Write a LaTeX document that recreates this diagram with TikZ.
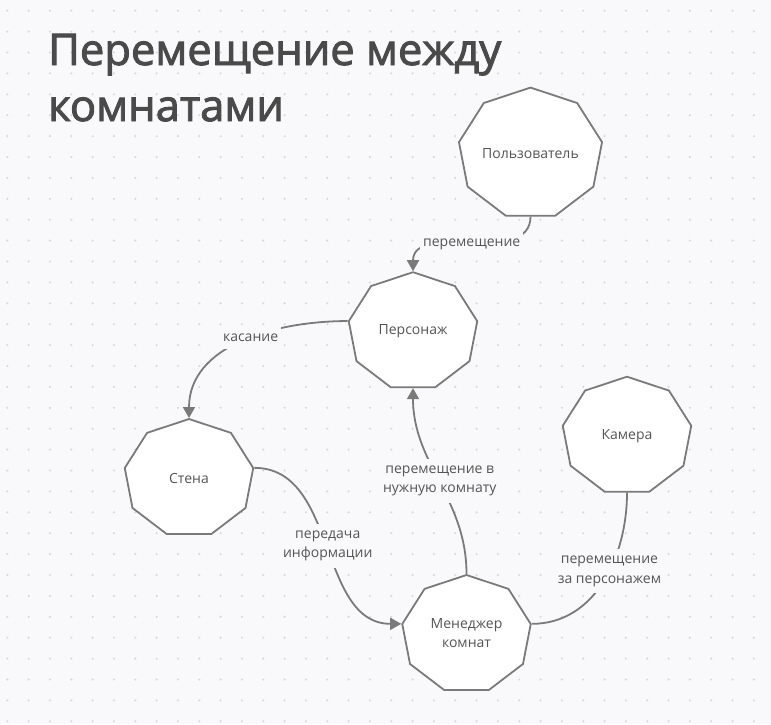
\documentclass[tikz,border=0pt]{standalone}
\usepackage{fontspec}
\setmainfont{Open Sans}
\newfontfamily\titlefont{Open Sans}[FakeBold=2.2]
\usepackage{graphicx}
\usetikzlibrary{arrows.meta}
\usetikzlibrary{shapes.geometric}
\definecolor{paper}{HTML}{F9F9FB}
\definecolor{griddot}{HTML}{DADADE}
\definecolor{wire}{HTML}{7A7A7A}
\definecolor{ink}{HTML}{555555}
\definecolor{headink}{HTML}{4A4A4A}
% the rooms are stretched by 1.1, so squeeze their text back
\newcommand{\roomtext}[1]{\scalebox{0.91}[1]{#1}}
\tikzset{
	room/.style={regular polygon, regular polygon sides=9, minimum size=118.6pt, inner sep=0pt, xscale=1.1, draw=wire, line width=1.8pt, fill=white, text=ink, font=\fontsize{14}{18.5}\selectfont},
	link/.style={draw=wire, line width=1.8pt},
	tip/.style={-{Triangle[length=11pt, width=12pt]}},
	note/.style={fill=paper, text=ink, font=\fontsize{14}{19.5}\selectfont, align=center, inner xsep=3pt, inner ysep=7pt}
}

\begin{document}
\begin{tikzpicture}[x=1pt, y=-1pt]
\useasboundingbox (0,0) rectangle (771,724);
\fill[paper] (0,0) rectangle (771,724);
\foreach \i in {0,...,35}
	\foreach \j in {0,...,34}
		\fill[griddot] (7.33+21.33*\i, 10.7+20.9*\j) circle (1.2pt);

% base west of a two-line node sits on the last line
\node[anchor=base west, align=left, inner sep=0pt, text=headink, font=\titlefont\fontsize{43.5}{56}\selectfont] (title) at (48,121) {Перемещение между\\комнатами};

\node[room] (user) at (530.5,153.6) {\roomtext{Пользователь}};
\node[room] (hero) at (413,331.5) {\roomtext{Персонаж}};
\node[room] (wall) at (189,478.3) {\roomtext{Стена}};
\node[room] (cam) at (627,436) {\roomtext{Камера}};
\node[room] (mgr) at (466.5,634.3) {\roomtext{\begin{tabular}{@{}c@{}}Менеджер\\комнат\end{tabular}}};

\draw[link, tip] (user.south) to[out=-90, in=90] node[note] {перемещение} (hero.north);
\draw[link, tip] (hero.corner 3) to[out=180, in=90] node[note, pos=0.45] {касание} (wall.north);
\draw[link, tip] (wall.corner 8) to[out=0, in=180] node[note] {передача\\информации} (mgr.corner 3);
\draw[link, tip] (mgr.north) to[out=90, in=-90] node[note] {перемещение в\\нужную комнату} (hero.south);
\draw[link] (cam.south) to[out=-90, in=0] node[note, pos=0.43] {перемещение\\за персонажем} (mgr.corner 8);
\end{tikzpicture}
\end{document}
